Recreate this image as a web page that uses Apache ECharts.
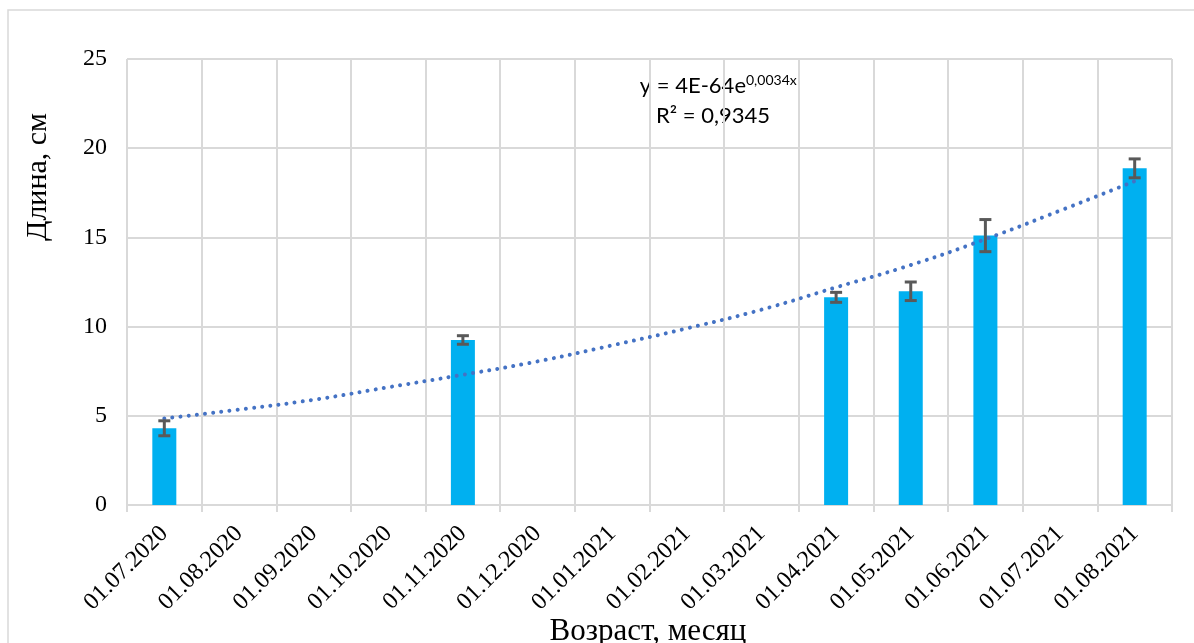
<!DOCTYPE html>
<html>
<head>
<meta charset="utf-8">
<script src="https://cdn.jsdelivr.net/npm/echarts@6/dist/echarts.min.js"></script>
<style>
  html, body { margin: 0; padding: 0; background: #fff; }
  #chart { width: 1194px; height: 643px; }
</style>
</head>
<body>
<div id="chart"></div>
<script>
  // месяцы (подписи оси X)
  var months = ['01.07.2020', '01.08.2020', '01.09.2020', '01.10.2020', '01.11.2020', '01.12.2020',
    '01.01.2021', '01.02.2021', '01.03.2021', '01.04.2021', '01.05.2021', '01.06.2021',
    '01.07.2021', '01.08.2021'
  ]
  // средняя длина, см (пусто — нет измерений)
  var lengthData = [4.3, null, null, null, 9.25, null, null, null, null, 11.64, 11.98, 15.1, null, 18.87]
  // погрешность, ±см
  var errorData = [0.42, null, null, null, 0.24, null, null, null, null, 0.28, 0.52, 0.9, null, 0.53]
  // экспоненциальная линия тренда (значения)
  var trendData = [4.85, 5.35, 5.9, 6.6, 7.3, 8.05, 8.95, 9.9, 10.95, 12.2, 13.45, 14.9, 16.5, 18.15]
  var yTicks = [0, 5, 10, 15, 20, 25]

  var serif = 'Liberation Serif'
  var chart = echarts.init(document.getElementById('chart'))

  var errItems = []
  lengthData.forEach(function (v, i) {
    if (v != null) errItems.push([i, v - errorData[i], v + errorData[i]])
  })

  chart.setOption({
    animation: false,
    grid: {
      left: 127,
      right: 22,
      top: 59,
      bottom: 138
    },
    xAxis: {
      type: 'category',
      data: months,
      boundaryGap: true,
      axisLine: {
        show: true,
        lineStyle: { color: '#d9d9d9', width: 2 }
      },
      axisTick: {
        show: true,
        interval: 0,
        length: 7,
        lineStyle: { color: '#d9d9d9', width: 2 }
      },
      splitLine: {
        show: true,
        interval: 0,
        lineStyle: { color: '#d9d9d9', width: 2 }
      },
      axisLabel: {
        interval: 0,
        rotate: 45,
        margin: 25,
        color: '#000',
        fontFamily: serif,
        fontSize: 24
      }
    },
    yAxis: {
      type: 'value',
      min: yTicks[0],
      max: yTicks[yTicks.length - 1],
      interval: 5,
      axisLine: { show: false },
      axisTick: { show: false },
      splitLine: {
        lineStyle: { color: '#d9d9d9', width: 2 }
      },
      axisLabel: {
        margin: 20,
        color: '#000',
        fontFamily: serif,
        fontSize: 24
      }
    },
    series: [{
        name: 'Длина',
        type: 'bar',
        barWidth: 24,
        itemStyle: { color: '#00b0f0' },
        data: lengthData,
        z: 2
      },
      {
        name: 'Погрешность',
        type: 'custom',
        z: 4,
        renderItem: function (params, api) {
          var x = api.value(0)
          var lo = api.coord([x, api.value(1)])
          var hi = api.coord([x, api.value(2)])
          var w = 6
          var st = { stroke: '#595959', lineWidth: 3 }
          return {
            type: 'group',
            children: [
              { type: 'line', shape: { x1: lo[0], y1: lo[1], x2: hi[0], y2: hi[1] }, style: st },
              { type: 'line', shape: { x1: lo[0] - w, y1: lo[1], x2: lo[0] + w, y2: lo[1] }, style: st },
              { type: 'line', shape: { x1: hi[0] - w, y1: hi[1], x2: hi[0] + w, y2: hi[1] }, style: st }
            ]
          }
        },
        encode: { x: 0, y: [1, 2] },
        data: errItems
      },
      {
        name: 'Тренд',
        type: 'line',
        smooth: true,
        symbol: 'none',
        z: 3,
        lineStyle: {
          color: '#4472c4',
          width: 4,
          type: [0.01, 8.2],
          cap: 'round'
        },
        data: trendData
      }
    ],
    graphic: [{
        type: 'rect',
        shape: { x: 8, y: 10, width: 1300, height: 800 },
        style: { fill: 'none', stroke: '#d9d9d9', lineWidth: 1.5 },
        silent: true,
        z: -10
      },
      {
        type: 'text',
        x: 38,
        y: 177,
        rotation: Math.PI / 2,
        style: {
          text: 'Длина, см',
          fontFamily: serif,
          fontSize: 30,
          fill: '#000',
          align: 'center',
          verticalAlign: 'middle'
        }
      },
      {
        type: 'text',
        x: 648,
        y: 632,
        style: {
          text: 'Возраст, месяц',
          fontFamily: serif,
          fontSize: 31,
          fill: '#000',
          align: 'center',
          verticalAlign: 'middle'
        }
      },
      {
        type: 'text',
        x: 746,
        y: 86,
        style: {
          text: 'y = 4E-64e',
          fontFamily: 'Lato',
          fontSize: 22,
          fill: '#000',
          align: 'right',
          verticalAlign: 'middle'
        }
      },
      {
        type: 'text',
        x: 746,
        y: 80,
        style: {
          text: '0,0034x',
          fontFamily: 'Lato',
          fontSize: 14,
          fill: '#000',
          align: 'left',
          verticalAlign: 'middle'
        }
      },
      {
        type: 'text',
        x: 713,
        y: 116,
        style: {
          text: 'R² = 0,9345',
          fontFamily: 'Lato',
          fontSize: 22,
          fill: '#000',
          align: 'center',
          verticalAlign: 'middle'
        }
      }
    ]
  })
</script>
</body>
</html>
